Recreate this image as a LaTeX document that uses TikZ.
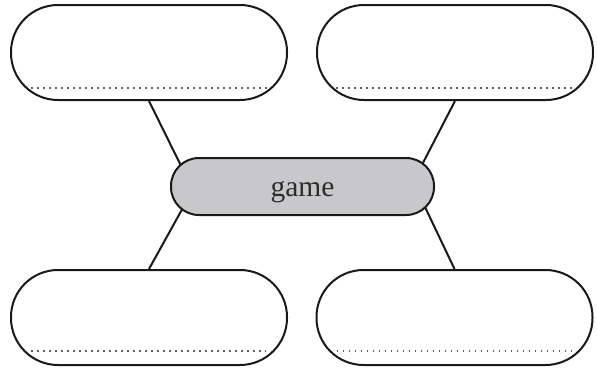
\documentclass[tikz,border=0pt]{standalone}
\usepackage{fontspec}
\setmainfont{Liberation Serif}
\usetikzlibrary{calc,backgrounds}
\definecolor{centerfill}{RGB}{200,200,202}
\definecolor{dotgray}{RGB}{95,95,95}
\definecolor{textgray}{RGB}{45,45,45}
\tikzset{
  pill/.style={draw=black!90, line width=2pt, fill=white, rectangle,
    minimum width=276pt, minimum height=95pt, rounded corners=47pt, inner sep=0pt},
  centerpill/.style={draw=black!90, line width=2pt, fill=centerfill, rectangle,
    minimum width=263pt, minimum height=57pt, rounded corners=28pt, inner sep=0pt,
    font=\fontsize{29.5}{32}\selectfont, text=textgray},
  link/.style={line width=2pt, draw=black!90},
  writeline/.style={dotgray, line width=1.8pt, dash pattern=on 1.6pt off 4.4pt}
}
\begin{document}
\begin{tikzpicture}[x=1pt,y=-1pt]
\useasboundingbox (0,0) rectangle (597,367);
% outer boxes
\node[pill] (tl) at (149,52.5) {};
\node[pill] (tr) at (455,52.5) {};
\node[pill] (bl) at (149,317.5) {};
\node[pill] (br) at (454.5,317.5) {};
% central box
\node[centerpill] (c) at (302.5,186.5) {\raisebox{-9.5pt}[0pt][0pt]{game}};
% hidden connector ends inside the central box
\coordinate (etl) at (191,186);
\coordinate (etr) at (411,186);
\coordinate (ebl) at (195,186);
\coordinate (ebr) at (415,186);
\begin{pgfonlayer}{background}
\draw[link] (tl.south) -- (etl);
\draw[link] (tr.south) -- (etr);
\draw[link] (bl.north) -- (ebl);
\draw[link] (br.north) -- (ebr);
\end{pgfonlayer}
% dotted writing lines
\draw[writeline] ($(tl.south west)+(21,-13)$) -- ($(tl.south east)+(-20,-13)$);
\draw[writeline] ($(tr.south west)+(20,-13)$) -- ($(tr.south east)+(-21,-13)$);
\draw[writeline] ($(bl.south west)+(21,-15)$) -- ($(bl.south east)+(-22,-15)$);
\draw[writeline] ($(br.south west)+(21,-15)$) -- ($(br.south east)+(-21,-15)$);
\end{tikzpicture}
\end{document}
